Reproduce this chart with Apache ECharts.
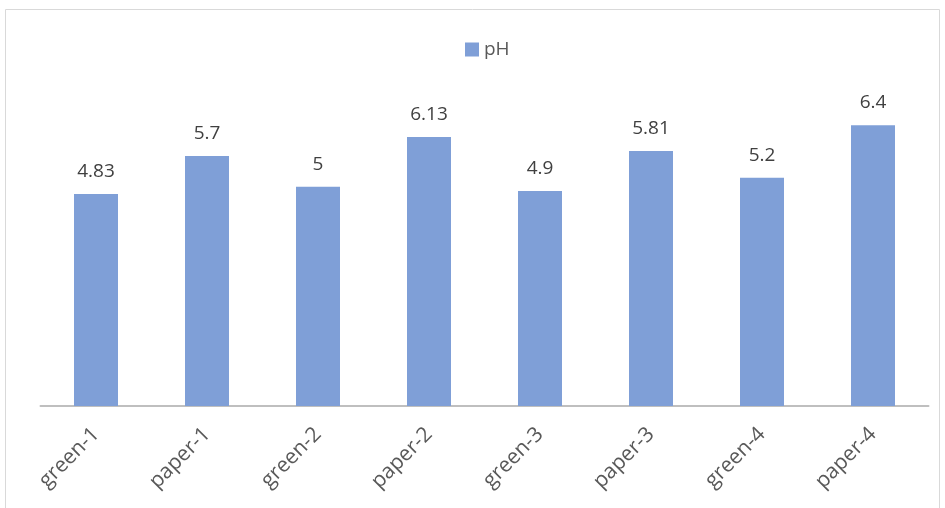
<!DOCTYPE html>
<html><head><meta charset="utf-8">
<script src="https://cdn.jsdelivr.net/npm/echarts@6/dist/echarts.min.js"></script>
<style>html,body{margin:0;padding:0;background:#fff}#c{width:945px;height:508px}</style>
</head><body><div id="c"></div>
<script>
const categories = ['green-1','paper-1','green-2','paper-2','green-3','paper-3','green-4','paper-4'];
const phValues = [4.83, 5.7, 5, 6.13, 4.9, 5.81, 5.2, 6.4];
const seriesName = 'pH';
const FONT = 'Open Sans, Noto Sans, sans-serif';
const chart = echarts.init(document.getElementById('c'));
chart.setOption({
  animation: false,
  graphic: [{type:'rect', shape:{x:5.5,y:9.5,width:934,height:520}, style:{fill:'none',stroke:'#d9d9d9',lineWidth:1}, silent:true}],
  legend: {data:[seriesName], top:35, left:460, icon:'rect', itemWidth:14, itemHeight:14, itemGap:5,
    textStyle:{color:'#595959', fontSize:19, fontFamily:FONT}},
  grid: {left:40.5, right:16.5, top:55, bottom:102},
  xAxis: {type:'category', data:categories,
    axisLine:{lineStyle:{color:'#bfbfbf', width:2}}, axisTick:{show:false},
    axisLabel:{rotate:45, margin:25, color:'#595959', fontSize:21, fontFamily:FONT, interval:0}},
  yAxis: {type:'value', min:0, max:8, show:false, splitLine:{show:false}},
  series: [{name:seriesName, type:'bar', data:phValues, barWidth:44,
    itemStyle:{color:'#7f9fd7'},
    label:{show:true, position:'top', distance:13, color:'#404040', fontSize:19, fontFamily:FONT}}]
});
</script></body></html>
